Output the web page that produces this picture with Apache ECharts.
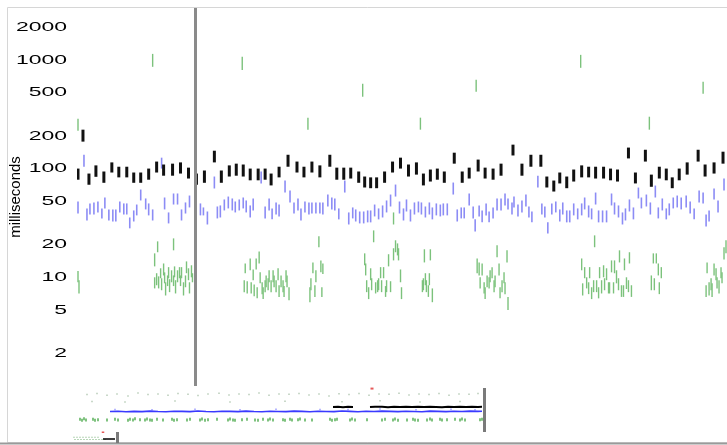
<!DOCTYPE html>
<html><head><meta charset="utf-8">
<script src="https://cdn.jsdelivr.net/npm/echarts@6/dist/echarts.min.js"></script>
<style>html,body{margin:0;padding:0;background:#fff}#c{width:727px;height:445px}</style>
</head><body><div id="c"></div>
<script>
// y-axis tick labels (log scale, milliseconds)
const tickLabels = [2, 5, 10, 20, 50, 100, 200, 500, 1000, 2000];
const yAxisName = 'milliseconds';
const markerTime = 118;      // grey cursor line in main view
const overviewMarker = 404;  // grey marker in the overview strip
const miniMarker = 44;       // grey marker in the small bottom-left strip

// main view: [time, low ms, high ms]
const blackBars = [
[0,79,100],[5,177,228],[11,71,90],[18,84,107],[26,74,94],[34,92,114],[41,83,104],[49,83,104],[56,74,92],[63,74,92],
[71,79,100],[79,92,116],[86,86,109],[95,86,111],[103,90,114],[111,81,102],[119,71,90],[127,74,96],[137,114,146],[144,74,96],
[152,84.5,107],[159,86,111],[166,84.5,109],[173,78,100],[181,78,100],[188,79,100],[194,70,90],[202,83,104],[211,104,134],[220,92,116],
[227,83,104],[235,92,116],[243,83,107],[253,104,134],[260,79,102],[267,79,102],[274,81,102],[282,74,94],[288,67,84.5],[294,66,83],
[300,66,83],[308,74,94],[316,92,116],[324,100,126],[332,84.5,109],[340,88,114],[347,70,90],[354,76,98],[361,79,100],[368,74,94],
[378,111,140],[386,74,94],[393,81,102],[402,94,121],[409,81,102],[417,79,100],[425,86,111],[437,132,166],[446,86,111],[455,104,134],
[465,104,134],[471,67,84.5],[478,61.5,77.6],[484,73,92],[491,66,84.5],[498,76,98],[506,83,107],[513,83,104],[520,81,104],[528,81,104],
[535,78,100],[542,76,98],[553,124,156],[560,73,92],[570,116,149],[576,68,88],[584,81,104],[591,78,100],[597,66,83],[604,78,100],
[612,88,114],[623,116,149],[630,84.5,109],[639,90,114],[648,111,143]
];
const blueBars = [
[0,38.6,49.8],[6,104,134],[9,33.3,43],[12,37.8,47.8],[16,37.8,48.8],[20,39.5,49.8],[24,34.8,43],[27,43,54.2],[31,33.3,42.1],[35,32.6,42.1],
[38,32.6,42.1],[42,39.5,49.8],[46,37.8,47.8],[49,37.8,47.8],[52,28.2,35.5],[56,32.6,41.2],[59,37.1,46.7],[63,50.9,64.2],[68,42.1,53.1],[71,37.1,47.8],
[75,33.3,42.1],[84,100,126],[87,42.1,54.2],[91,31.3,39.5],[96,46.7,59],[100,46.7,59],[104,33.3,42.1],[108,38.6,48.8],[112,43.9,56.5],[123,37.1,47.8],
[126,37.1,43.9],[130,30.6,40.3],[137,65.6,84.5],[140,34.8,44.8],[143,35.5,45.8],[147,41.2,52],[151,43,55.3],[155,41.2,53.1],[158,39.5,49.8],[162,41.2,52],
[166,43,54.2],[169,39.5,50.9],[173,35.5,45.8],[176,41.2,53.1],[184,72.8,94],[188,34.8,44.8],[192,41.2,53.1],[195,34.1,43],[199,37.8,48.8],[202,36.3,46.7],
[208,60.2,77.6],[213,48.8,62.9],[217,38.6,48.8],[221,41.2,53.1],[224,33.3,43],[228,39.5,49.8],[232,37.8,48.8],[235,38.6,48.8],[239,38.6,48.8],[243,38.6,48.8],
[246,37.8,48.8],[251,44.8,57.7],[255,42.1,54.2],[258,41.2,53.1],[262,34.1,43],[268,60.2,77.6],[272,30.6,39.5],[276,34.8,43.9],[279,32.6,42.1],[283,31.3,40.3],
[287,31.3,40.3],[291,32,41.2],[294,32,41.2],[298,36.3,46.7],[302,34.1,43],[306,35.5,45.8],[310,39.5,50.9],[314,44.8,57.7],[319,55.3,71.3],[323,38.6,49.8],
[327,33.3,43],[330,40.3,52],[334,32.6,42.1],[338,37.8,48.8],[342,39.5,49.8],[345,37.8,48.8],[349,35.5,44.8],[353,37.8,48.8],[356,34.1,43.9],[360,37.1,47.8],
[364,36.3,46.7],[367,37.1,47.8],[371,37.1,47.8],[377,57.7,74.4],[381,32.6,42.1],[385,34.8,43.9],[388,34.8,43.9],[393,45.8,59],[397,34.8,44.8],[399,26.4,34.1],
[403,36.3,45.8],[406,32,41.2],[410,37.1,47.8],[413,32,40.3],[417,34.8,43.9],[421,41.2,53.1],[425,41.2,53.1],[429,45.8,59],[432,42.1,53.1],[436,37.8,48.8],
[438,43.9,55.3],[442,36.3,46.7],[446,39.5,50.9],[450,44.8,57.7],[453,35.5,44.8],[456,32,40.3],[462,66.9,86],[466,37.8,47.8],[469,35.5,44.8],[472,25.3,32],
[476,37.8,47.8],[480,39.5,49.8],[484,32.6,42.1],[487,37.8,48.8],[491,32,41.2],[494,32,41.2],[498,37.1,47.8],[502,34.1,43],[506,37.1,47.8],[509,42.1,54.2],
[513,35.5,45.8],[516,34.1,43],[520,46.7,60.2],[523,32,41.2],[527,32,41.2],[531,32,41.2],[536,45.8,59],[539,37.8,48.8],[543,35.5,45.8],[547,30.6,39.5],
[550,33.3,43],[554,40.3,52],[558,34.1,43.9],[563,53.1,66.9],[566,43,54.2],[571,44.8,57.7],[575,37.8,48.8],[580,54.2,69.8],[583,34.8,43.9],[587,41.2,53.1],
[591,34.1,43],[594,37.1,47.8],[598,43,54.2],[602,43.9,56.5],[606,42.1,54.2],[611,43.9,56.5],[615,38.6,49.8],[619,34.1,43],[624,48.8,62.9],[628,47.8,60.2],
[631,29.4,37.8],[634,32.6,41.2],[639,52,65.6],[643,39.5,50.9],[649,62.9,81]
];
const greenBars = [
[0,9.0,11.4],[1,7.1,9.4],[0,223,288],[75,863,1135],[77,12.6,16.6],[80,17.0,21.4],[96,17.7,22.8],[77,7.9,10],[79,8.45,10.9],[81,7.9,10.2],
[83,9.8,12.1],[84,7.6,9.8],[86,10.4,13.4],[87,8.8,11.1],[88,6.8,9.0],[90,8.3,10.4],[91,9.8,12.4],[92,7.3,9.6],[94,9.0,11.6],[96,8.3,10.4],
[97,10,12.6],[98,7.1,9.4],[100,9.0,11.6],[102,9.8,12.4],[103,8.3,10.4],[104,9.8,12.4],[106,6.8,9.0],[108,8.1,10.4],[109,10.9,14.0],[111,9.4,12.1],
[112,7.1,9.0],[114,10,12.9],[115,9.0,10.9],
[165,809,1066],[167,7.3,9.4],[168,10.9,13.4],[170,7.1,9.2],[173,11.6,14.9],[174,7.1,9.0],[176,9.4,11.8],[177,6.7,8.6],[179,11.8,14.9],[180,6.4,8.1],
[182,13.4,17.3],[183,8.8,11.1],[185,7.0,9.0],[186,6.3,8.1],[188,7.3,9.4],[189,8.1,10.4],[191,7.6,9.8],[192,9.0,11.6],[194,7.3,9.4],[196,9.0,11.6],
[197,8.1,10.4],[199,7.3,9.4],[201,9.4,12.1],[202,6.6,8.45],[204,8.1,10.4],[206,7.3,9.4],[207,6.6,8.3],[209,9.0,11.6],[210,8.1,10.4],[212,6.15,8.1],
[231,228,294],[233,5.9,8.1],[234,7.6,9.8],[236,10.9,13.7],[238,6.6,8.45],[239,9.0,11.6],[242,18.9,23.8],[244,11.1,14.3],[245,6.6,8.1],[246,10.7,13.4],
[286,458,603],[288,12.9,16.6],[289,10.4,13.4],[290,7.3,9.4],[292,6.3,8.1],[294,9.4,12.1],[295,7.6,9.8],[297,21.0,27.0],[299,7.1,9.0],[301,7.3,9.4],
[302,7.6,9.8],[304,9.8,12.4],[305,7.3,9.4],[307,9.8,12.4],[309,6.6,8.3],[310,7.3,9.4],[312,12.6,16.3],[314,7.3,9.2],[317,14.3,18.5],[317,30.6,39.5],
[319,17.0,21.9],[321,15.9,20.5],[322,14.3,18.5],[324,9.0,11.8],[325,6.3,8.1],
[344,228,294],[346,7.3,9.4],[347,7.6,9.8],[348,13.7,18.1],[349,8.45,10.9],[350,7.3,9.4],[352,6.6,8.45],[353,8.45,10.9],[354,14.3,18.1],[356,5.9,7.9],
[400,509,656],[401,10.9,14.9],[403,10.4,13.7],[404,7.9,10],[406,10.4,13.4],[408,7.1,9.0],[409,6.3,8.1],[411,8.1,10.4],[413,7.9,10],[414,9.0,11.6],
[416,9.8,12.4],[418,7.3,9.4],[419,8.1,10.4],[421,15.3,19.7],[423,10.4,13.4],[424,6.4,8.1],[426,7.3,9.4],[428,8.8,11.1],[429,7.0,9.0],[431,13.7,17.7],
[432,5.0,6.6],
[505,845,1112],[506,11.6,14.9],[507,6.8,8.8],[509,9.8,12.4],[511,7.9,10],[513,7.0,9.0],[514,9.8,12.4],[516,6.3,8.1],[518,7.3,9.4],[519,18.9,24.3],
[521,7.3,9.4],[523,6.4,8.1],[524,9.8,12.4],[526,7.1,9.4],[528,10,12.9],[529,7.6,9.8],[531,9.4,12.1],[533,7.1,9.0],[534,7.1,9.0],[536,11.1,14.3],
[538,7.1,9.0],[539,10.9,14.3],[541,8.8,11.6],[543,7.6,9.8],[544,13.7,17.7],[546,6.6,8.45],[548,6.6,8.45],[549,11.6,14.9],[551,7.8,10],[553,7.3,9.4],
[554,13.4,17.0],[556,6.6,8.45],
[574,228,300],[576,7.6,10.4],[578,13.4,16.6],[579,7.6,9.8],[581,13.4,16.6],[583,10.4,13.4],[584,7.0,9.0],[586,9.8,12.4],
[628,488,628],[631,6.6,8.45],[632,10.9,13.7],[634,6.8,9.0],[636,7.6,9.8],[637,6.6,8.8],[639,10.4,13.4],[641,9.4,12.1],[642,7.9,10],[644,7.1,9.4],
[646,9.8,12.4],[647,8.8,11.1],[649,14.6,18.9],[651,16.6,21.9]
];

// overview strip (longer time span): [time, ms]
const ovHigh = [[7,900],[17,1100],[27,800],[37,1000],[48,700],[58,1200],[68,900],[78,1000],[88,800],[98,1100],[108,950],[118,750],[128,1000],[139,1150],[149,850],[159,1000],[169,900],[179,1200],[189,800],[199,1000],[209,950],[219,1100],[229,850],[239,1000],[249,700],[259,1050],[269,900],[279,1100],[289,800],[299,1000],[309,950],[319,1150],[329,850],[339,1000],[349,900],[359,1100],[369,800],[379,1000],[389,950],[398,1100],
[12,260],[45,240],[95,280],[150,230],[205,270],[262,250],[300,300],[340,240],[380,260]];
const ovBlue = [[30,42],[38,44],[46,40],[54,43],[62,41],[70,45],[78,42],[86,40],[94,44],[102,43],[110,41],[118,46],[126,42],[134,40],[142,44],[150,43],[158,41],[166,45],[174,42],[182,40],[190,44],[198,42],[206,41],[214,45],[222,43],[230,40],[238,44],[246,42],[254,41],[262,46],[270,43],[278,40],[286,44],[294,42],[302,45],[310,43],[318,41],[326,44],[334,42],[342,40],[350,45],[358,43],[366,41],[374,44],[382,42],[390,45],[398,43],[402,44]];
const ovBlueSpikes = [[35,60],[72,58],[115,62],[160,57],[196,63],[240,59],[268,61],[300,66],[336,58],[371,62],[395,57]];
const ovBlack = [[253,95],[258,100],[263,92],[268,98],[273,96],[280,'-'],[290,94],[295,100],[302,97],[308,92],[314,99],[320,95],[326,101],[332,93],[338,98],[344,94],[350,100],[356,96],[362,92],[368,99],[374,95],[380,101],[386,94],[392,98],[398,96],[402,97]];
const ovGreen = [[-2,9],[0,10],[2,8.5],[4,11],[6,9],[13,10],[15,8.5],[18,9.5],[27,9],[35,10],[38,9],[48,8.5],[50,10],[53,9],[55,11],[60,9.5],[65,9],[67,10.5],[70,9],[72,8.5],[77,10],[83,9],[92,10],[94,8.5],[97,9.5],[107,9],[110,10],[120,9],[122,10.5],[125,8.5],[128,9.5],[137,10],[148,9],[150,10.5],[153,9],[155,8.5],[162,9.5],[167,10],[175,9],[178,8.5],[183,10],[188,9],[190,10.5],[193,9],[203,9.5],[205,8.5],[210,10],[212,9],[218,9.5],[220,10.5],[225,9],[232,9],[250,10],[252,8.5],[255,9.5],[257,10],[270,9],[272,10.5],[275,9],[287,9.5],[302,9],[305,10],[313,9],[315,10.5],[318,8.5],[327,9],[333,10],[335,9],[338,8.5],[347,9],[350,10.5],[352,9],[360,10],[362,9],[367,9.5],[375,10],[380,9],[382,10.5],[385,9],[400,9.5],[402,10]];
const ovRed = [[292,2700]];

// small bottom-left strip: [time, ms]
const miniGreen = [[1,60],[4,60],[7,60],[10,60],[13,60],[16,60],[19,60],[22,60],[25,60],[2,12],[5,12],[8,12],[11,12],[14,12],[17,12],[20,12],[23,12],[26,12],[29,12],[32,12]];
const miniBlack = [[30,20],[34,20],[38,20],[42,20]];
const miniRed = [[30,2500]];
</script>
<script>
const chart = echarts.init(document.getElementById('c'), null, {renderer:'canvas'});
function barRenderer(w, color){
  return function(params, api){
    const x = api.value(0), lo = api.value(1), hi = api.value(2);
    const p1 = api.coord([x, hi]), p2 = api.coord([x, lo]);
    return {type:'rect', shape:{x:p1[0]-w/2, y:p1[1], width:w, height:Math.max(1,p2[1]-p1[1])}, style:{fill:color}};
  };
}
const markStyle = (c)=>({silent:true, symbol:'none', label:{show:false}, lineStyle:{color:c, width:3, type:'solid'}});
const option = {
  animation:false,
  backgroundColor:'#fff',
  grid:[
    {left:75, right:0, top:8, height:378},
    {left:80, width:406, top:388, height:44},
    {left:73, width:46, top:432, height:11},
  ],
  xAxis:[
    {gridIndex:0, type:'value', min:0, max:652, show:false},
    {gridIndex:1, type:'value', min:0, max:406, show:false},
    {gridIndex:2, type:'value', min:0, max:46, show:false},
  ],
  yAxis:[
    {gridIndex:0, type:'log', min:1, max:3000, logBase:10,
     name:yAxisName, nameLocation:'middle', nameRotate:90, nameGap:55,
     nameTextStyle:{fontFamily:'Liberation Sans', fontSize:15, color:'#000'},
     axisLine:{show:false}, axisTick:{show:false}, splitLine:{show:false}, axisLabel:{show:false}},
    {gridIndex:1, type:'log', min:1, max:3000, show:false},
    {gridIndex:2, type:'log', min:1, max:3000, show:false},
  ],
  series:[
    {type:'custom', xAxisIndex:0, yAxisIndex:0, data:greenBars, renderItem:barRenderer(1.4,'#7cc27c'), encode:{x:0,y:[1,2]}, clip:true},
    {type:'custom', xAxisIndex:0, yAxisIndex:0, data:blueBars, renderItem:barRenderer(1.6,'#8c8cf5'), encode:{x:0,y:[1,2]}, clip:true},
    {type:'custom', xAxisIndex:0, yAxisIndex:0, data:blackBars, renderItem:barRenderer(3,'#111'), encode:{x:0,y:[1,2]}, clip:true,
     markLine:Object.assign(markStyle('#8a8a8a'), {data:[{xAxis:markerTime}]})},
    {type:'scatter', xAxisIndex:1, yAxisIndex:1, data:ovHigh, symbol:'rect', symbolSize:[1.5,1.5], itemStyle:{color:'#a6bfa6'}},
    {type:'line', xAxisIndex:1, yAxisIndex:1, data:ovBlue, showSymbol:false, lineStyle:{color:'#3a3aff', width:1.6},
     markLine:Object.assign(markStyle('#7a7a7a'), {data:[{xAxis:overviewMarker}]})},
    {type:'scatter', xAxisIndex:1, yAxisIndex:1, data:ovBlueSpikes, symbol:'rect', symbolSize:[1.2,1.5], itemStyle:{color:'#6a6aff'}},
    {type:'line', xAxisIndex:1, yAxisIndex:1, data:ovBlack, showSymbol:false, connectNulls:false, lineStyle:{color:'#000', width:2}},
    {type:'scatter', xAxisIndex:1, yAxisIndex:1, data:ovGreen, symbol:'rect', symbolSize:[1.5,3], itemStyle:{color:'#2a9a2a'}},
    {type:'scatter', xAxisIndex:1, yAxisIndex:1, data:ovRed, symbol:'rect', symbolSize:[3,2], itemStyle:{color:'#e03030'}},
    {type:'scatter', xAxisIndex:2, yAxisIndex:2, data:miniGreen, symbol:'rect', symbolSize:[1.2,1], itemStyle:{color:'#6aaa6a'},
     markLine:Object.assign(markStyle('#7a7a7a'), {data:[{xAxis:miniMarker}]})},
    {type:'line', xAxisIndex:2, yAxisIndex:2, data:miniBlack, showSymbol:false, lineStyle:{color:'#000', width:1.5}},
    {type:'scatter', xAxisIndex:2, yAxisIndex:2, data:miniRed, symbol:'rect', symbolSize:[2.5,1.5], itemStyle:{color:'#e03030'}},
  ],
  graphic:[
    {type:'rect', id:'frame', silent:true, shape:{x:7.5, y:7.5, width:740, height:435}, style:{fill:'none', stroke:'#d6d6d6', lineWidth:1}, z:-1},
    {type:'line', id:'bottom', silent:true, shape:{x1:0, y1:443.5, x2:727, y2:443.5}, style:{stroke:'#9a9a9a', lineWidth:2}},
  ]
};
chart.setOption(option);
// tick labels as real text, placed through the axis scale
const labelEls = tickLabels.map((v,i)=>{
  const py = chart.convertToPixel({yAxisIndex:0}, v);
  return {type:'text', id:'tick'+i, silent:true, x:67, y:py, scaleX:1.7, scaleY:1, originX:0, originY:0,
    style:{text:String(v), x:0, y:0, align:'right', verticalAlign:'middle', fontFamily:'Liberation Sans', fontSize:13.5, fill:'#000'}};
});
chart.setOption({graphic: labelEls});
</script>
</body></html>
